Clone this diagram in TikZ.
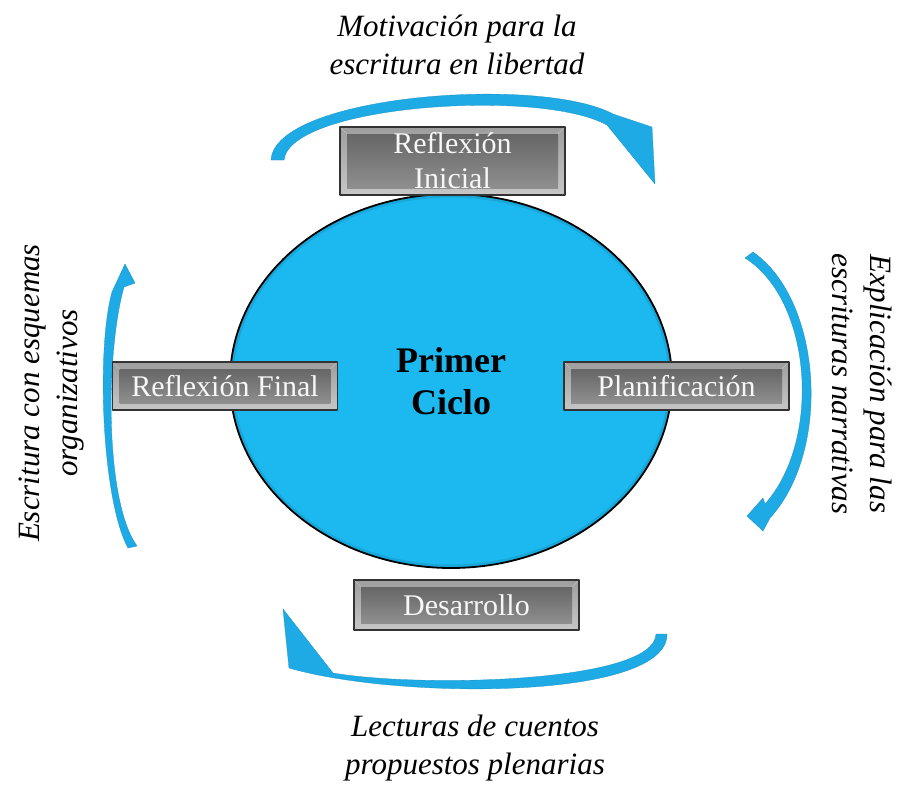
\documentclass[tikz,border=0pt]{standalone}
\usepackage{fontspec}
\setmainfont{Liberation Serif}
\usetikzlibrary{shapes.geometric, calc}
\definecolor{cicloblue}{RGB}{28,184,240}
\definecolor{arrowblue}{RGB}{30,170,228}

\begin{document}
\begin{tikzpicture}[line cap=round,line join=round,x=1pt,y=-1pt,
    bevelbox/.style={rectangle, draw=black!80, line width=1.6pt, minimum width=225pt, minimum height=48pt,
        inner sep=0pt, top color=black!38, bottom color=black!22, text=white!94!gray, align=center,
        font=\fontsize{30}{35}\selectfont,
        path picture={
            \coordinate (bsw) at (path picture bounding box.south west);
            \coordinate (bne) at (path picture bounding box.north east);
            \shade[top color=black!60, bottom color=black!44] ($(bsw)+(7pt,7pt)$) rectangle ($(bne)+(-7pt,-7pt)$);
            \draw[black!25, line width=0.5pt] (bsw) -- ++(7pt,7pt) (bne) -- ++(-7pt,-7pt)
                (bsw-|bne) -- ++(-7pt,7pt) (bne-|bsw) -- ++(7pt,-7pt);
        }},
    cyclelabel/.style={align=center, font=\fontsize{31}{38}\selectfont\itshape, text=black},
    cyclearrow/.style={fill=arrowblue, draw=arrowblue!85!black, line width=0.3pt}]

    \useasboundingbox (0,0) rectangle (903,788);

    % curved arrows round the cycle
    % top: Reflexion Inicial -> Planificacion
    \filldraw[cyclearrow] (271,160) .. controls (275,95) and (540,75) .. (613,114) -- (652,127) -- (655,184)
        -- (607,125) .. controls (540,88) and (290,105) .. (284,160) -- cycle;
    % right: Planificacion -> Desarrollo
    \filldraw[cyclearrow] (753,252) .. controls (822,300) and (832,450) .. (770,518) -- (763,531) -- (747,516)
        -- (763,498) -- (765,504) .. controls (822,440) and (812,300) .. (745,258) -- cycle;
    % bottom: Desarrollo -> Reflexion Final
    \filldraw[cyclearrow] (667,634) .. controls (668,700) and (400,700) .. (289,668) -- (283,609) -- (333,673)
        .. controls (420,688) and (655,683) .. (656,634) -- cycle;
    % left: Reflexion Final -> Reflexion Inicial
    \filldraw[cyclearrow] (128,548) .. controls (102,500) and (96,350) .. (112,292) -- (125,264) -- (135,283)
        -- (124,287) .. controls (106,350) and (104,500) .. (137,546) -- cycle;

    % central ellipse
    \node[ellipse, draw=black, line width=1.8pt, fill=cicloblue, minimum width=442pt, minimum height=374pt,
        inner sep=0pt, align=center, font=\bfseries\fontsize{36}{42}\selectfont,
        path picture={\draw[cicloblue!80!black, line width=7pt, opacity=0.45]
            (path picture bounding box.center) ellipse [x radius=221pt, y radius=187pt];}] (ciclo) at (451,381) {Primer\\Ciclo};

    % phase boxes
    \node[bevelbox, minimum height=68pt] (inicial) at (452.5,161) {Reflexión\\Inicial};
    \node[bevelbox] (final) at (225,386) {Reflexión Final};
    \node[bevelbox] (planif) at (676.5,386) {Planificación};
    \node[bevelbox, minimum height=50pt] (desarrollo) at (466.5,605) {Desarrollo};

    % arrow captions
    \node[cyclelabel] (motivacion) at (457,45) {Motivación para la\\escritura en libertad};
    \node[cyclelabel, rotate=-90] (explicacion) at (862,384) {Explicación para las\\escrituras narrativas};
    \node[cyclelabel] (lecturas) at (475,748) {Lecturas de cuentos\\propuestos plenarias};
    \node[cyclelabel, rotate=90] (esquemas) at (52,393) {Escritura con esquemas\\organizativos};

\end{tikzpicture}
\end{document}
